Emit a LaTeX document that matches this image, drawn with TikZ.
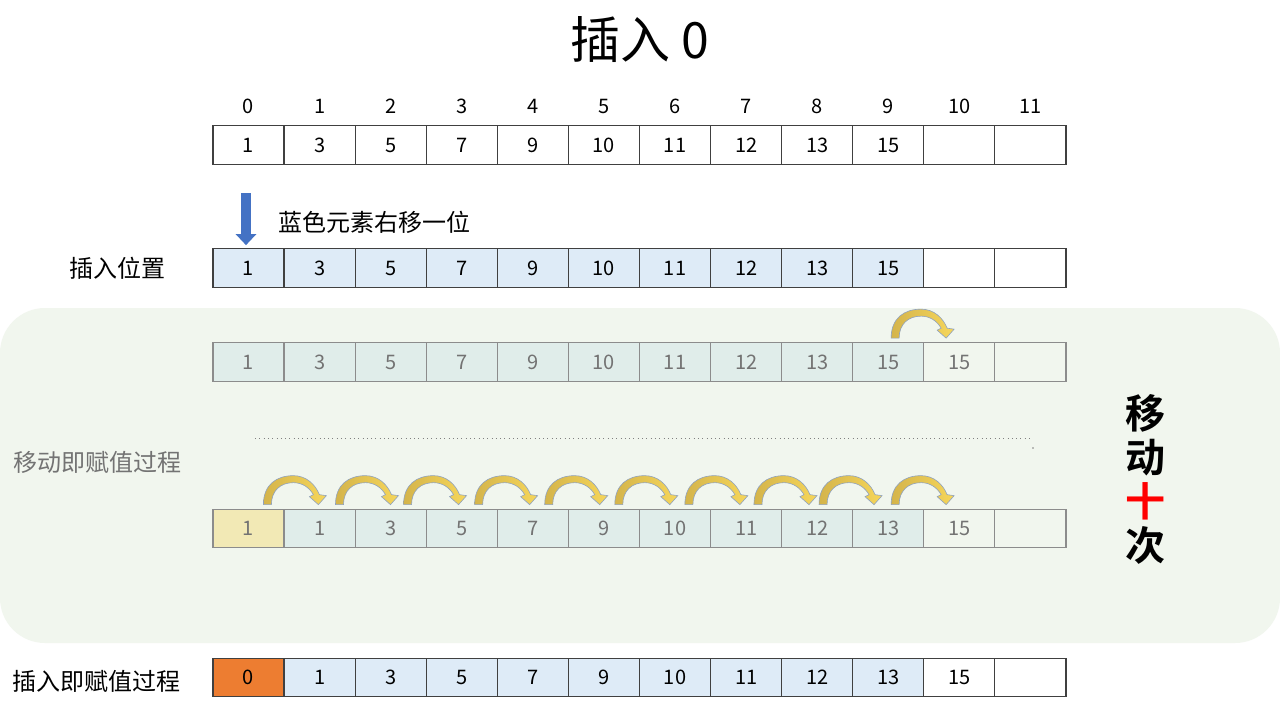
\documentclass[tikz,border=0pt]{standalone}
\usepackage{fontspec}
\setmainfont{Noto Sans CJK SC}[BoldFont={Noto Sans CJK SC Bold}]
\usetikzlibrary{positioning,arrows.meta}

\definecolor{cellblue}{HTML}{DEEBF7}
\definecolor{cellteal}{HTML}{E0EDEA}
\definecolor{cellyellow}{HTML}{F2E9B5}
\definecolor{cellorange}{HTML}{ED7D31}
\definecolor{panelgreen}{HTML}{F1F6EE}
\definecolor{pointblue}{HTML}{4472C4}
\definecolor{hopdark}{HTML}{D4B44B}
\definecolor{hoplight}{HTML}{F6D65A}
\definecolor{hopedge}{HTML}{8FA2BF}

\tikzset{
  cell/.style={draw=black!75, line width=1.2pt, minimum width=71.08pt, minimum height=38.5pt, inner sep=0pt, font=\fontsize{20}{24}\selectfont},
  fadecell/.style={cell, draw=black!45, text=black!55},
  idx/.style={font=\fontsize{20}{24}\selectfont},
  rowlabel/.style={font=\fontsize{24}{28}\selectfont},
  hop/.pic={
    \shadedraw[left color=hopdark, right color=hoplight, draw=hopedge, line width=0.6pt]
      (0,0) .. controls (0,-20) and (13,-29) .. (30,-29)
      .. controls (43,-29) and (52,-20) .. (56,-10) -- (63,-9) -- (55,0) -- (46,-8) -- (50,-10)
      .. controls (46,-17) and (39,-22) .. (30,-22)
      .. controls (17,-22) and (8,-14) .. (8,0) -- cycle;
  }
}

\begin{document}
\begin{tikzpicture}[x=1pt, y=-1pt]
  \useasboundingbox (0,0) rectangle (1280,720);
  \fill[white] (0,0) rectangle (1280,720);

  % Panel
  \fill[panelgreen, rounded corners=45pt] (0,308) rectangle (1280,643);

  % Title
  \node[font=\fontsize{50}{56}\selectfont] (title) at (640,40) {插入 0};

  % Row 1: array with indexes
  \foreach \v [count=\i from 0] in {1,3,5,7,9,10,11,12,13,15,{},{}}
    \node[cell] (a\i) at (248.54+71.08*\i, 145) {\v};
  \foreach \i in {0,...,11}
    \node[idx, above=8pt of a\i] (ix\i) {\i};

  % Row 2: insert position
  \foreach \v/\f [count=\i from 0] in {1/cellblue,3/cellblue,5/cellblue,7/cellblue,9/cellblue,10/cellblue,11/cellblue,12/cellblue,13/cellblue,15/cellblue,/white,/white}
    \node[cell, fill=\f] (b\i) at (248.54+71.08*\i, 268) {\v};
  \node[rowlabel, left=43pt of b0] (pos) {插入位置};
  \coordinate (pointtop) at (246,193);
  \draw[pointblue, line width=10pt, -{Triangle[width=20pt, length=11pt]}, shorten >=3pt] (pointtop) -- (b0.north -| pointtop);
  \node[rowlabel, anchor=west] (note) at (275,222) {蓝色元素右移一位};

  % Row 3: first move
  \foreach \v/\f [count=\i from 0] in {1/cellteal,3/cellteal,5/cellteal,7/cellteal,9/cellteal,10/cellteal,11/cellteal,12/cellteal,13/cellteal,15/cellteal,15/none,/none}
    \node[fadecell, fill=\f] (c\i) at (248.54+71.08*\i, 362) {\v};
  \pic at ([xshift=39pt, yshift=4pt]c9.north west) {hop};

  % Dots
  \draw[black!50, line width=1pt, dash pattern=on 1pt off 3.3pt] (255,438) -- (1030,438);
  \fill[black!50] (1033,448) circle (0.8);

  % Row 4: all moves
  \node[rowlabel, text=black!55] (movelabel) at (97,462) {移动即赋值过程};
  \foreach \v/\f [count=\i from 0] in {1/cellyellow,1/cellteal,3/cellteal,5/cellteal,7/cellteal,9/cellteal,10/cellteal,11/cellteal,12/cellteal,13/cellteal,15/none,/none}
    \node[fadecell, fill=\f] (d\i) at (248.54+71.08*\i, 528.5) {\v};
  \foreach \i/\dx in {0/51,1/52,2/49,3/49,4/48,5/47,6/46,7/44,8/38,9/39}
    \pic at ([xshift=\dx pt, yshift=4pt]d\i.north west) {hop};

  % Side note
  \node[font=\fontsize{40}{44}\selectfont\bfseries, align=center] (count) at (1145,479) {移\\动\\\textcolor{red}{十}\\次};

  % Row 5: result
  \foreach \v/\f [count=\i from 0] in {0/cellorange,1/cellblue,3/cellblue,5/cellblue,7/cellblue,9/cellblue,10/cellblue,11/cellblue,12/cellblue,13/cellblue,15/white,/white}
    \node[cell, fill=\f] (e\i) at (248.54+71.08*\i, 677.5) {\v};
  \node[rowlabel, left=28pt of e0, yshift=-4pt] (insertlabel) {插入即赋值过程};
\end{tikzpicture}
\end{document}
